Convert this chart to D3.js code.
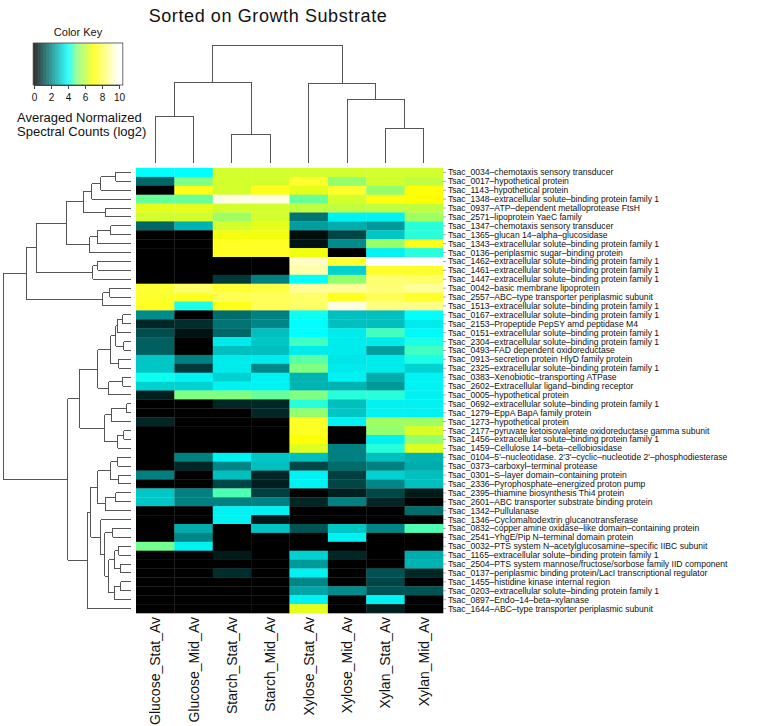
<!DOCTYPE html>
<html><head><meta charset="utf-8">
<script src="https://cdn.jsdelivr.net/npm/d3@7"></script>
<style>body{margin:0;background:#fff}svg{display:block}</style>
</head><body>
<script>
const columns = ["Glucose_Stat_Av","Glucose_Mid_Av","Starch_Stat_Av","Starch_Mid_Av","Xylose_Stat_Av","Xylose_Mid_Av","Xylan_Stat_Av","Xylan_Mid_Av"];
const rowLabels = [
"Tsac_0034–chemotaxis sensory transducer",
"Tsac_0017–hypothetical protein",
"Tsac_1143–hypothetical protein",
"Tsac_1348–extracellular solute–binding protein family 1",
"Tsac_0937–ATP–dependent metalloprotease FtsH",
"Tsac_2571–lipoprotein YaeC family",
"Tsac_1347–chemotaxis sensory transducer",
"Tsac_1365–glucan 14–alpha–glucosidase",
"Tsac_1343–extracellular solute–binding protein family 1",
"Tsac_0136–periplasmic sugar–binding protein",
"Tsac_1462–extracellular solute–binding protein family 1",
"Tsac_1461–extracellular solute–binding protein family 1",
"Tsac_1447–extracellular solute–binding protein family 1",
"Tsac_0042–basic membrane lipoprotein",
"Tsac_2557–ABC–type transporter periplasmic subunit",
"Tsac_1513–extracellular solute–binding protein family 1",
"Tsac_0167–extracellular solute–binding protein family 1",
"Tsac_2153–Propeptide PepSY amd peptidase M4",
"Tsac_0151–extracellular solute–binding protein family 1",
"Tsac_2304–extracellular solute–binding protein family 1",
"Tsac_0493–FAD dependent oxidoreductase",
"Tsac_0913–secretion protein HlyD family protein",
"Tsac_2325–extracellular solute–binding protein family 1",
"Tsac_0383–Xenobiotic–transporting ATPase",
"Tsac_2602–Extracellular ligand–binding receptor",
"Tsac_0005–hypothetical protein",
"Tsac_0692–extracellular solute–binding protein family 1",
"Tsac_1279–EppA BapA family protein",
"Tsac_1273–hypothetical protein",
"Tsac_2177–pyruvate ketoisovalerate oxidoreductase gamma subunit",
"Tsac_1456–extracellular solute–binding protein family 1",
"Tsac_1459–Cellulose 14–beta–cellobiosidase",
"Tsac_0104–5'–nucleotidase. 2'3'–cyclic–nucleotide 2'–phosphodiesterase",
"Tsac_0373–carboxyl–terminal protease",
"Tsac_0301–S–layer domain–containing protein",
"Tsac_2336–Pyrophosphate–energized proton pump",
"Tsac_2395–thiamine biosynthesis Thi4 protein",
"Tsac_2601–ABC transporter substrate binding protein",
"Tsac_1342–Pullulanase",
"Tsac_1346–Cyclomaltodextrin glucanotransferase",
"Tsac_0832–copper amine oxidase–like domain–containing protein",
"Tsac_2541–YhgE/Pip N–terminal domain protein",
"Tsac_0032–PTS system N–acetylglucosamine–specific IIBC subunit",
"Tsac_1165–extracellular solute–binding protein family 1",
"Tsac_2504–PTS system mannose/fructose/sorbose family IID component",
"Tsac_0137–periplasmic binding protein/LacI transcriptional regulator",
"Tsac_1455–histidine kinase internal region",
"Tsac_0203–extracellular solute–binding protein family 1",
"Tsac_0897–Endo–14–beta–xylanase",
"Tsac_1644–ABC–type transporter periplasmic subunit"];
const values = [
[4.0,4.0,6.3,6.3,6.3,6.3,6.3,6.3],
[1.6,5.0,6.3,6.3,7.5,5.3,6.3,6.0],
[0.0,7.3,6.3,7.3,6.6,7.5,5.3,7.1],
[4.8,4.8,9.7,9.7,4.8,6.3,7.2,7.0],
[6.6,6.6,6.3,6.3,6.0,6.0,6.0,6.0],
[6.3,6.3,5.5,6.3,1.8,3.8,3.8,5.5],
[1.6,2.8,6.3,6.6,2.5,2.7,2.4,4.3],
[0.0,0.0,6.8,6.8,0.2,1.1,3.1,4.3],
[0.0,0.0,7.4,7.4,0.3,2.2,5.4,7.3],
[0.0,0.0,7.4,7.4,6.8,0.0,3.8,4.3],
[0.0,0.0,0.0,0.0,9.3,7.6,10.0,10.0],
[0.0,0.0,0.0,0.0,9.0,3.3,7.5,7.5],
[0.0,0.0,0.9,2.0,4.0,5.3,8.3,8.2],
[7.6,8.2,7.6,7.8,8.8,8.8,8.4,8.8],
[7.5,7.4,8.0,8.0,8.2,7.4,8.0,7.5],
[7.4,4.2,7.3,8.0,8.2,9.6,8.5,8.6],
[2.2,0.0,1.7,2.0,4.1,3.0,3.0,4.0],
[0.6,0.7,1.8,2.1,4.0,3.0,3.0,3.7],
[1.2,0.3,1.6,3.0,4.0,3.7,4.5,3.9],
[1.5,0.0,3.7,3.1,4.5,3.7,3.7,4.2],
[1.5,0.0,3.0,3.0,3.7,3.7,2.5,4.5],
[3.1,2.0,3.7,3.7,4.7,3.6,3.7,4.2],
[3.1,0.9,3.7,2.1,5.0,3.7,3.7,3.3],
[4.1,3.8,3.3,3.8,2.8,3.8,2.7,3.8],
[3.3,3.3,3.8,3.8,2.8,2.8,2.4,3.8],
[0.5,5.0,5.0,4.8,5.0,4.3,4.3,3.8],
[0.0,0.0,0.6,0.6,4.3,3.0,3.8,3.8],
[0.0,0.0,0.0,0.6,5.3,3.1,3.8,3.8],
[0.6,0.0,0.0,0.0,7.4,3.8,5.5,5.5],
[0.0,0.0,0.0,0.0,7.4,0.0,5.3,6.4],
[0.0,0.0,0.0,0.0,7.1,0.0,3.8,5.3],
[0.0,0.0,0.0,0.0,6.5,2.0,4.3,6.5],
[0.0,2.0,3.8,3.1,3.0,2.0,3.0,2.8],
[0.0,0.6,2.1,3.0,1.1,1.7,2.0,2.7],
[2.0,0.0,3.0,0.6,3.8,1.0,3.3,3.0],
[0.0,0.0,1.1,0.5,3.8,1.1,2.1,3.0],
[3.1,2.0,4.6,1.0,0.0,0.5,1.1,0.4],
[3.1,2.0,2.0,2.0,0.6,2.0,0.6,0.0],
[0.0,0.0,3.8,3.8,0.0,0.0,0.0,1.7],
[0.0,0.0,3.8,0.4,0.0,0.0,0.0,0.0],
[0.0,2.7,0.0,3.1,1.3,3.1,2.1,4.6],
[0.0,2.1,0.0,0.0,0.0,3.8,0.0,0.0],
[4.9,3.8,0.0,0.0,0.0,0.0,0.0,0.0],
[0.0,0.0,0.4,0.0,3.3,0.6,0.0,2.7],
[0.0,0.0,0.0,0.0,2.4,0.0,0.0,2.8],
[0.0,0.0,0.7,0.0,3.8,0.0,1.3,0.6],
[0.0,0.0,0.0,0.0,2.1,0.0,1.1,0.0],
[0.0,0.0,0.0,0.0,2.6,2.2,1.3,1.3],
[0.0,0.0,0.0,0.0,3.8,0.0,3.8,0.0],
[0.0,0.0,0.0,0.0,6.6,0.0,0.5,0.0]];
const keyTicks = [0,2,4,6,8,10];
const colorStops = [0,4,5,7,10];
const colorRange = ["#000000","#00ffff","#80ff80","#ffff00","#ffffff"];
// dendrograms: [height, left, right]; leaves are row/column indices
const colTree = [118,[81,[47,0,1],[29,2,3]],[80,4,[64,5,[35,6,7]]]];
const rowTreeTop = [104,[94,[64,[47,[39,[30,[15,0,1],2],3],[25,4,5]],[41,[33,[20,6,7],8],9]],[38,[33,10,11],12]],[28,[21,13,14],15]];
const rowTreeA = [33,[20,[15,[13,[8,16,17],18],[7,19,20]],[12,21,22]],[22,[8,23,24],25]];
const rowTreeB = [26,[19,[4,26,27],28],[13,[7,29,30],31]];
const rowTreeC = [33,[20,[13,32,33],[12,34,35]],[25,[15,36,37],38]];
const rowTreeU = [22,[16,[12,42,43],[10,44,45]],[16,[10,46,47],48]];
const rowTreeS = [30,39,[26,[18,40,41],rowTreeU]];
const rowTree = [127,rowTreeTop,[63,[51,rowTreeA,rowTreeB],[43,[40,rowTreeC,rowTreeS],49]]];

const W=760,H=726;
const svg=d3.select("body").append("svg").attr("width",W).attr("height",H)
  .style("font-family","'Liberation Sans',Arial,Helvetica,sans-serif");
const x=d3.scaleBand().domain(d3.range(columns.length)).range([136,443]);
const y=d3.scaleBand().domain(d3.range(rowLabels.length)).range([168,613]);
const color=d3.scaleLinear().domain(colorStops).range(colorRange).clamp(true);

// heatmap
const g=svg.append("g");
values.forEach((row,i)=>row.forEach((v,j)=>{
  g.append("rect").attr("x",x(j)).attr("y",y(i)).attr("width",x.bandwidth()+0.3).attr("height",y.bandwidth()+0.3).attr("fill",color(v));
}));

// right ticks and row labels
svg.append("g").selectAll("line").data(rowLabels).join("line")
  .attr("x1",443).attr("x2",446).attr("y1",(d,i)=>y(i)+y.bandwidth()/2).attr("y2",(d,i)=>y(i)+y.bandwidth()/2)
  .attr("stroke","#777").attr("stroke-width",0.6);
svg.append("g").selectAll("text").data(rowLabels).join("text")
  .attr("x",448).attr("y",(d,i)=>y(i)+y.bandwidth()/2).attr("dy","0.35em")
  .attr("font-size",8.6).attr("fill","#111").text(d=>d);

// column labels
svg.append("g").selectAll("text").data(columns).join("text")
  .attr("transform",(d,j)=>`translate(${x(j)+x.bandwidth()/2+5},617) rotate(-90)`)
  .attr("text-anchor","end").attr("font-size",14).attr("fill","#111").text(d=>d);

// dendrograms
function drawTree(node, posFn, hScale, horizontal, grp){
  function rec(n){
    if(!Array.isArray(n)) return {p:posFn(n),h:0};
    const l=rec(n[1]), r=rec(n[2]), h=n[0];
    const hp=hScale(h);
    [l,r].forEach(c=>{
      const cp=hScale(c.h);
      if(horizontal) grp.append("line").attr("x1",cp).attr("x2",hp).attr("y1",c.p).attr("y2",c.p);
      else grp.append("line").attr("y1",cp).attr("y2",hp).attr("x1",c.p).attr("x2",c.p);
    });
    if(horizontal) grp.append("line").attr("x1",hp).attr("x2",hp).attr("y1",l.p).attr("y2",r.p);
    else grp.append("line").attr("y1",hp).attr("y2",hp).attr("x1",l.p).attr("x2",r.p);
    return {p:(l.p+r.p)/2,h};
  }
  rec(node);
}
const dg1=svg.append("g").attr("stroke","#555").attr("stroke-width",1).attr("shape-rendering","crispEdges");
drawTree(rowTree, i=>y(i)+y.bandwidth()/2, d3.scaleLinear().domain([0,127]).range([131,3]), true, dg1);
const dg2=svg.append("g").attr("stroke","#555").attr("stroke-width",1).attr("shape-rendering","crispEdges");
drawTree(colTree, j=>x(j)+x.bandwidth()/2, d3.scaleLinear().domain([0,118]).range([163,45]), false, dg2);

// title
svg.append("text").attr("x",268).attr("y",22).attr("text-anchor","middle").attr("font-size",18).attr("fill","#111")
  .attr("letter-spacing",0.6).text("Sorted on Growth Substrate");

// color key
const kx=d3.scaleLinear().domain([0,10]).range([34,119]);
const kg=svg.append("g");
const steps=d3.range(-0.1,10.45,0.05);
kg.selectAll("rect").data(steps).join("rect")
  .attr("x",d=>kx(d)).attr("y",43).attr("width",kx(0.06)-kx(0)).attr("height",42).attr("fill",d=>color(d));
kg.append("rect").attr("x",kx(-0.1)).attr("y",43).attr("width",kx(10.45)-kx(-0.1)).attr("height",42)
  .attr("fill","none").attr("stroke","#444").attr("stroke-width",0.8);
const axis=d3.axisBottom(kx).tickValues(keyTicks).tickSize(4).tickSizeOuter(0);
const ag=kg.append("g").attr("transform","translate(0,85)").call(axis);
ag.select(".domain").attr("stroke","#444");
ag.selectAll("text").attr("font-size",10).attr("font-family","'Liberation Sans',Arial,sans-serif").attr("fill","#111").attr("dy","0.9em");
ag.selectAll("line").attr("stroke","#444");
kg.append("text").attr("x",78).attr("y",36).attr("text-anchor","middle").attr("font-size",11).attr("fill","#111").text("Color Key");
kg.append("text").attr("x",17).attr("y",122).attr("font-size",13).attr("fill","#111").text("Averaged Normalized");
kg.append("text").attr("x",17).attr("y",136).attr("font-size",13).attr("fill","#111").text("Spectral Counts (log2)");
</script>
</body></html>
